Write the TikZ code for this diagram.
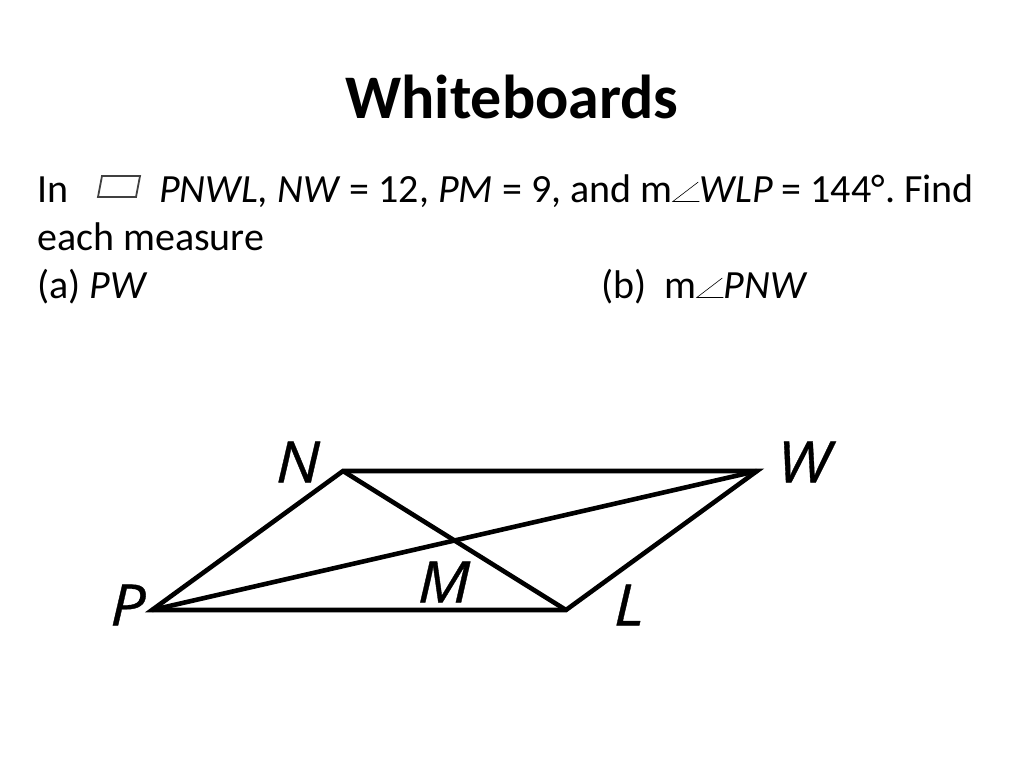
\documentclass[tikz,border=0pt]{standalone}
\usepackage{fontspec}
\setmainfont{Carlito}
\newfontfamily\figfont[FakeStretch=1.1,FakeBold=0.6]{Open Sans}
\newcommand{\angsym}{\tikz[baseline=0pt,x=1pt,y=1pt]\draw[line width=0.6pt] (26,20)--(0.5,0.5)--(27,0.5);}
\tikzset{
  px/.style={x=1pt,y=-1pt},
  body/.style={inner sep=0pt,anchor=base west,font=\fontsize{40}{44}\selectfont},
  figlabel/.style={inner sep=0pt,anchor=center,font=\figfont\itshape\fontsize{57}{64}\selectfont},
  edge/.style={line width=4.6pt,line join=miter}
}
\begin{document}
\frenchspacing
\begin{tikzpicture}[px]
\useasboundingbox (0,0) rectangle (1024,768);
\node[inner sep=0pt,font=\bfseries\fontsize{62}{68}\selectfont] (title) at (512,97) {Whiteboards};
\node[body] (l1a) at (37,202) {In};
\draw[line width=1.8pt,draw=black!75] (102,176)--(140,176)--(136,197)--(98,197)--cycle;
\node[body] (l1b) at (159,202) {\textit{PNWL, NW} = 12, \textit{PM} = 9, and m\angsym\textit{WLP} = 144°. Find};
\node[body] (l2) at (37,250) {each measure};
\node[body] (l3a) at (37,298) {(a) \textit{PW}};
\node[body] (l3b) at (601,298) {(b)\ \ m\angsym\textit{PNW}};
\coordinate (P) at (152,610);
\coordinate (N) at (343,471);
\coordinate (W) at (757,471);
\coordinate (L) at (566,610);
\draw[edge] (P)--(N)--(W)--(L)--cycle;
\draw[edge] (P)--(W);
\draw[edge] (N)--(L);
\node[figlabel] (nN) at (298,462) {N};
\node[figlabel] (nW) at (804,462) {W};
\node[figlabel] (nP) at (128,605) {P};
\node[figlabel] (nL) at (629,605) {L};
\node[figlabel] (nM) at (444,582) {M};
\end{tikzpicture}
\end{document}
